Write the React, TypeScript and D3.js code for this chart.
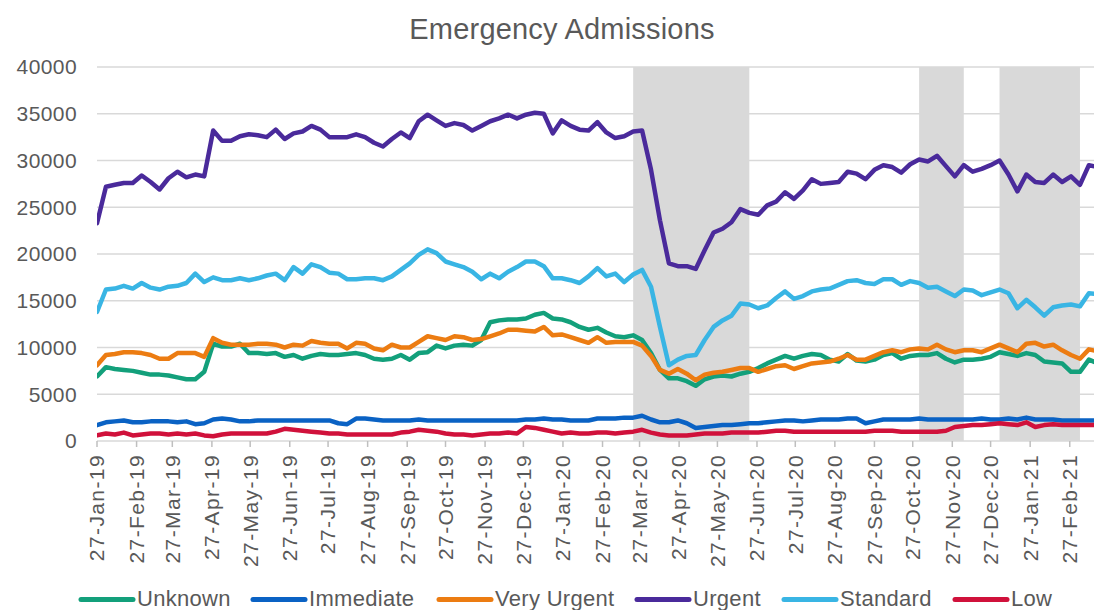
import * as d3 from "d3";
import React from "react";

// weekly series, first week ending 27-Jan-19
const firstWeek = new Date(2019, 0, 27);
const axisEnd = new Date(2021, 2, 18);

const monthTicks = d3.range(26).map((m) => new Date(2019, m, 27));
const yTicks = [0, 5000, 10000, 15000, 20000, 25000, 30000, 35000, 40000];

// lockdown periods (grey bands)
const lockdownStarts = [new Date(2020, 2, 22), new Date(2020, 10, 1), new Date(2021, 0, 3)];
const lockdownEnds = [new Date(2020, 5, 21), new Date(2020, 11, 6), new Date(2021, 2, 7)];

const seriesNames = ["Unknown", "Immediate", "Very Urgent", "Urgent", "Standard", "Low"];
const seriesColors = ["#13a07b", "#0a62c4", "#ec7c12", "#4a2a9b", "#39b5e4", "#d0113b"];

const unknown = [
  6900, 7900, 7700, 7600, 7500, 7300, 7100, 7100, 7000, 6800, 6600, 6600, 7400, 10400, 10100, 10100,
  10400, 9400, 9400, 9300, 9400, 9000, 9200, 8800, 9100, 9300, 9200, 9200, 9300, 9400, 9200, 8800,
  8700, 8800, 9200, 8700, 9400, 9500, 10200, 9900, 10200, 10300, 10200, 10800, 12700, 12900, 13000, 13000,
  13100, 13500, 13700, 13100, 13000, 12700, 12200, 11900, 12100, 11600, 11200, 11100, 11300, 10800, 9400, 7600,
  6700, 6700, 6400, 5900, 6600, 6900, 7000, 6900, 7200, 7400, 7800, 8300, 8700, 9100, 8800, 9100,
  9300, 9200, 8700, 8500, 9300, 8600, 8500, 8700, 9200, 9400, 8800, 9100, 9200, 9200, 9400, 8800,
  8400, 8700, 8700, 8800, 9000, 9500, 9300, 9100, 9400, 9200, 8500, 8400, 8300, 7400, 7400, 8700,
  8300,
];
const immediate = [
  1700, 2000, 2100, 2200, 2000, 2000, 2100, 2100, 2100, 2000, 2100, 1800, 1900, 2300, 2400, 2300,
  2100, 2100, 2200, 2200, 2200, 2200, 2200, 2200, 2200, 2200, 2200, 1900, 1800, 2400, 2400, 2300,
  2200, 2200, 2200, 2200, 2300, 2200, 2200, 2200, 2200, 2200, 2200, 2200, 2200, 2200, 2200, 2200,
  2300, 2300, 2400, 2300, 2300, 2200, 2200, 2200, 2400, 2400, 2400, 2500, 2500, 2700, 2300, 2000,
  2000, 2200, 1900, 1400, 1500, 1600, 1700, 1700, 1800, 1900, 1900, 2000, 2100, 2200, 2200, 2100,
  2200, 2300, 2300, 2300, 2400, 2400, 1900, 2100, 2300, 2300, 2300, 2300, 2400, 2300, 2300, 2300,
  2300, 2300, 2300, 2400, 2300, 2300, 2400, 2300, 2500, 2300, 2300, 2300, 2200, 2200, 2200, 2200,
  2200,
];
const veryUrgent = [
  8100, 9200, 9300, 9500, 9500, 9400, 9200, 8800, 8800, 9400, 9400, 9400, 9000, 11000, 10500, 10300,
  10300, 10300, 10400, 10400, 10300, 10000, 10300, 10200, 10700, 10500, 10400, 10400, 9900, 10500, 10400, 9900,
  9700, 10300, 10000, 10000, 10600, 11200, 11000, 10800, 11200, 11100, 10800, 10900, 11200, 11500, 11900, 11900,
  11800, 11700, 12200, 11300, 11400, 11100, 10800, 10500, 11100, 10500, 10600, 10600, 10600, 10200, 9100, 7600,
  7200, 7700, 7200, 6500, 7100, 7300, 7400, 7600, 7800, 7800, 7400, 7700, 8000, 8100, 7700, 8000,
  8300, 8400, 8500, 8800, 9200, 8700, 8700, 9100, 9500, 9700, 9500, 9800, 9900, 9800, 10300, 9800,
  9500, 9700, 9700, 9500, 9900, 10300, 9900, 9500, 10400, 10500, 10100, 10300, 9700, 9200, 8800, 9800,
  9600,
];
const urgent = [
  23300, 27200, 27400, 27600, 27600, 28400, 27700, 26900, 28100, 28800, 28200, 28500, 28300, 33200, 32100, 32100,
  32600, 32800, 32700, 32500, 33300, 32300, 32900, 33100, 33700, 33300, 32500, 32500, 32500, 32800, 32500, 31900,
  31500, 32300, 33000, 32400, 34200, 34900, 34300, 33700, 34000, 33800, 33200, 33700, 34200, 34500, 34900, 34500,
  34900, 35100, 35000, 32900, 34300, 33700, 33300, 33200, 34100, 33000, 32400, 32600, 33100, 33200, 29000, 23600,
  19000, 18700, 18700, 18400, 20400, 22300, 22700, 23400, 24800, 24400, 24200, 25200, 25600, 26600, 25900, 26800,
  28000, 27500, 27600, 27700, 28800, 28600, 28000, 29000, 29500, 29300, 28700, 29600, 30100, 29900, 30500, 29400,
  28300, 29500, 28800, 29100, 29500, 30000, 28500, 26700, 28500, 27700, 27600, 28500, 27700, 28300, 27400, 29500,
  29300,
];
const standard = [
  13800, 16200, 16300, 16600, 16300, 16900, 16400, 16200, 16500, 16600, 16900, 17900, 17000, 17500, 17200, 17200,
  17400, 17200, 17400, 17700, 17900, 17200, 18600, 17900, 18900, 18600, 18000, 17900, 17300, 17300, 17400, 17400,
  17200, 17600, 18300, 19000, 19900, 20500, 20100, 19200, 18900, 18600, 18100, 17300, 17900, 17400, 18100, 18600,
  19200, 19200, 18700, 17400, 17400, 17200, 16900, 17600, 18500, 17600, 17900, 17000, 17800, 18300, 16500, 12200,
  8100, 8700, 9100, 9200, 10800, 12200, 12900, 13400, 14700, 14600, 14200, 14500, 15300, 16000, 15200, 15500,
  16000, 16200, 16300, 16700, 17100, 17200, 16900, 16800, 17300, 17300, 16700, 17100, 16900, 16400, 16500, 16000,
  15500, 16200, 16100, 15600, 15900, 16200, 15800, 14200, 15100, 14300, 13400, 14300, 14500, 14600, 14400, 15800,
  15700,
];
const low = [
  600, 800, 700, 900, 600, 700, 800, 800, 700, 800, 700, 800, 600, 500, 700, 800,
  800, 800, 800, 800, 1000, 1300, 1200, 1100, 1000, 900, 800, 800, 700, 700, 700, 700,
  700, 700, 900, 1000, 1200, 1100, 1000, 800, 700, 700, 600, 700, 800, 800, 900, 800,
  1500, 1400, 1200, 1000, 800, 900, 800, 800, 900, 900, 800, 900, 1000, 1200, 900, 700,
  600, 600, 600, 700, 800, 800, 800, 900, 900, 900, 900, 1000, 1100, 1100, 1000, 1000,
  1000, 1000, 1000, 1000, 1000, 1000, 1000, 1100, 1100, 1100, 1000, 1000, 1000, 1000, 1000, 1100,
  1500, 1600, 1700, 1700, 1800, 1900, 1800, 1700, 2000, 1500, 1700, 1800, 1700, 1700, 1700, 1700,
  1700,
];

const seriesValues = [unknown, immediate, veryUrgent, urgent, standard, low];

// legend swatch starts (px)
const legendX = [81, 253, 439, 637, 784, 955];

const FONT = "'Liberation Sans', Arial, Helvetica, sans-serif";
const TEXT = "#595959";

export default function App(): React.ReactElement {
  const width = 1094;
  const height = 610;
  const left = 97;
  const right = 1094;
  const top = 67;
  const bottom = 441;

  const x = d3.scaleTime().domain([firstWeek, axisEnd]).range([left, right]);
  const y = d3.scaleLinear().domain([0, 40000]).range([bottom, top]);
  const fmt = d3.timeFormat("%d-%b-%y");

  const weeks = unknown.map((_, i) => d3.timeDay.offset(firstWeek, i * 7));

  const line = d3
    .line<number>()
    .x((_, i) => x(weeks[i]))
    .y((d) => y(d));

  return (
    <svg
      width={width}
      height={height}
      style={{ position: "absolute", left: 0, top: 0, background: "#fff" }}
      fontFamily={FONT}
    >
      <defs>
        <clipPath id="plot-clip">
          <rect x={left} y={top - 5} width={right - left} height={bottom - top + 10} />
        </clipPath>
      </defs>

      <text x={562} y={38.5} textAnchor="middle" fontSize={29} letterSpacing={0.2} fill={TEXT}>
        Emergency Admissions
      </text>

      {/* lockdown bands */}
      {lockdownStarts.map((s, i) => (
        <rect
          key={`band-${i}`}
          x={x(s)}
          y={top}
          width={x(lockdownEnds[i]) - x(s)}
          height={bottom - top}
          fill="#d9d9d9"
        />
      ))}

      {/* gridlines + y labels */}
      {yTicks.map((t) => (
        <g key={`yt-${t}`}>
          <line x1={left} x2={right} y1={y(t)} y2={y(t)} stroke="#d9d9d9" strokeWidth={1.5} />
          <text
            x={77}
            y={y(t)}
            dy="0.35em"
            textAnchor="end"
            fontSize={21}
            letterSpacing={0.4}
            fill={TEXT}
          >
            {t}
          </text>
        </g>
      ))}

      {/* x ticks */}
      {monthTicks.map((t) => (
        <g key={`xt-${t.getTime()}`} transform={`translate(${x(t)},0)`}>
          <line y1={bottom} y2={bottom + 6} stroke="#bfbfbf" strokeWidth={1.5} />
          <text
            transform={`translate(0,${bottom + 13}) rotate(-90)`}
            dy="0.35em"
            textAnchor="end"
            fontSize={21}
            letterSpacing={1.4}
            fill={TEXT}
          >
            {fmt(t)}
          </text>
        </g>
      ))}

      {/* series */}
      <g clipPath="url(#plot-clip)">
        {seriesValues.map((vals, i) => (
          <path
            key={`s-${seriesNames[i]}`}
            d={line(vals) ?? ""}
            fill="none"
            stroke={seriesColors[i]}
            strokeWidth={4.5}
            strokeLinejoin="round"
            strokeLinecap="round"
          />
        ))}
      </g>

      {/* legend */}
      {seriesNames.map((name, i) => (
        <g key={`leg-${name}`} transform={`translate(${legendX[i]},599.5)`}>
          <line x1={0} x2={52} y1={0} y2={0} stroke={seriesColors[i]} strokeWidth={5} strokeLinecap="round" />
          <text x={56} y={6.5} fontSize={22} letterSpacing={0.3} fill={TEXT}>
            {name}
          </text>
        </g>
      ))}
    </svg>
  );
}
